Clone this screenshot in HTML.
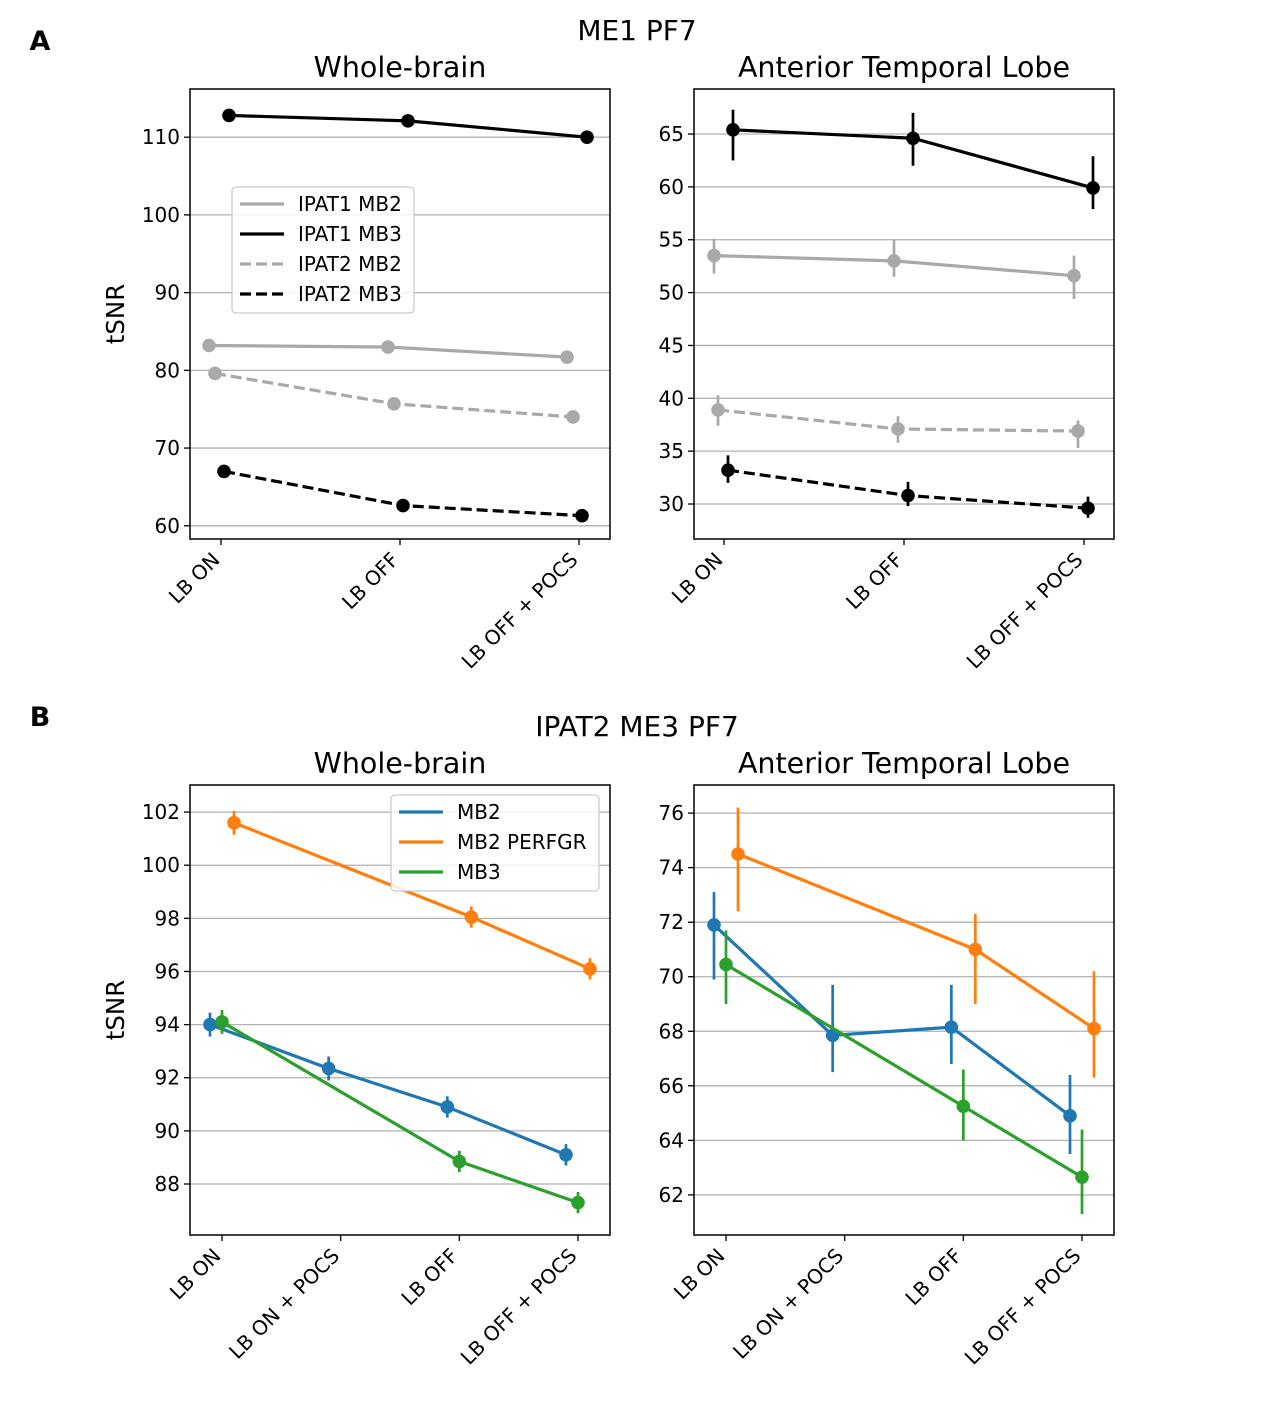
<!DOCTYPE html>
<html><head><meta charset="utf-8"><style>
body{margin:0;background:#fff}
svg{display:block;font-family:"DejaVu Sans","Liberation Sans",sans-serif}
</style></head><body>
<svg id="fig" width="1276" height="1406" viewBox="0 0 1276 1406">
<rect width="1276" height="1406" fill="#fff"/>
<text x="40" y="50" font-size="27" font-weight="bold" text-anchor="middle">A</text>
<text x="637" y="40" font-size="28" text-anchor="middle">ME1 PF7</text>
<text x="40" y="726" font-size="27" font-weight="bold" text-anchor="middle">B</text>
<text x="637" y="736" font-size="28" text-anchor="middle">IPAT2 ME3 PF7</text>
</svg>
<script>
// Panel A data
const catsA = ["LB ON","LB OFF","LB OFF + POCS"];
const seriesA = ["IPAT1 MB2","IPAT1 MB3","IPAT2 MB2","IPAT2 MB3"];
const wbA_ipat1mb2 = [83.2,83.0,81.7];
const wbA_ipat1mb3 = [112.8,112.1,110.0];
const wbA_ipat2mb2 = [79.6,75.7,74.0];
const wbA_ipat2mb3 = [67.0,62.6,61.3];
const atlA_ipat1mb2 = [53.5,53.0,51.6];
const atlA_ipat1mb2_lo = [51.8,51.5,49.4];
const atlA_ipat1mb2_hi = [55.1,55.0,53.5];
const atlA_ipat1mb3 = [65.4,64.6,59.9];
const atlA_ipat1mb3_lo = [62.5,62.0,57.9];
const atlA_ipat1mb3_hi = [67.3,67.0,62.9];
const atlA_ipat2mb2 = [38.9,37.1,36.9];
const atlA_ipat2mb2_lo = [37.4,35.8,35.3];
const atlA_ipat2mb2_hi = [40.3,38.3,37.9];
const atlA_ipat2mb3 = [33.2,30.8,29.6];
const atlA_ipat2mb3_lo = [32.0,29.8,28.7];
const atlA_ipat2mb3_hi = [34.6,32.1,30.7];
const ticksA_wb = [60,70,80,90,100,110];
const ticksA_atl = [30,35,40,45,50,55,60,65];
// Panel B data
const catsB = ["LB ON","LB ON + POCS","LB OFF","LB OFF + POCS"];
const seriesB = ["MB2","MB2 PERFGR","MB3"];
const wbB_mb2 = [94.0,92.35,90.9,89.1];
const wbB_perf = [101.6,null,98.05,96.1];
const wbB_mb3 = [94.1,null,88.85,87.3];
const wbB_err = [0.45,0.45,0.4,0.4];
const atlB_mb2 = [71.9,67.85,68.15,64.9];
const atlB_mb2_lo = [69.9,66.5,66.8,63.5];
const atlB_mb2_hi = [73.1,69.7,69.7,66.4];
const atlB_perf = [74.5,null,71.0,68.1];
const atlB_perf_lo = [72.4,null,69.0,66.3];
const atlB_perf_hi = [76.2,null,72.3,70.2];
const atlB_mb3 = [70.45,null,65.25,62.65];
const atlB_mb3_lo = [69.0,null,64.0,61.3];
const atlB_mb3_hi = [71.7,null,66.6,64.4];
const ticksB_wb = [88,90,92,94,96,98,100,102];
const ticksB_atl = [62,64,66,68,70,72,74,76];

const NS="http://www.w3.org/2000/svg";
const svg=document.getElementById('fig');
function mk(tag,attrs,parent){const e=document.createElementNS(NS,tag);for(const k in attrs)e.setAttribute(k,attrs[k]);(parent||svg).appendChild(e);return e;}

function axes(o){
  const g=mk('g',{});
  
  
  const y=v=>o.y1-(v-o.ymin)/(o.ymax-o.ymin)*(o.y1-o.y0);
  const n=o.cats.length;
  const xl=o.x0+o.pad, xr=o.x1-o.pad;
  const x=i=>xl+i*(xr-xl)/(n-1);
  o.ticks.forEach(t=>{
    const gl=mk('line',{x1:o.x0,x2:o.x1,y1:y(t),y2:y(t),stroke:'#b0b0b0','stroke-width':1.3},g);
    
    
    mk('line',{x1:o.x0-6,x2:o.x0,y1:y(t),y2:y(t),stroke:'#000','stroke-width':1.3},g);
    const tl=mk('text',{x:o.x0-10,y:y(t)+7,'font-size':20,'text-anchor':'end'},g);
    tl.textContent=t;
    
    
  });
  o.cats.forEach((c,i)=>{
    mk('line',{x1:x(i),x2:x(i),y1:o.y1,y2:o.y1+6,stroke:'#000','stroke-width':1.3},g);
    const tx=x(i)+0, ty=o.y1+22;
    const tl=mk('text',{x:tx,y:ty,'font-size':20,'text-anchor':'end',transform:`rotate(-45 ${tx} ${ty})`},g);
    tl.textContent=c;
    
    
  });
  const tt=mk('text',{x:(o.x0+o.x1)/2,y:o.y0-12,'font-size':28.5,'text-anchor':'middle'},g);
  tt.textContent=o.title;
  
  
  if(o.ylabel){
    const yl=mk('text',{x:124,y:(o.y0+o.y1)/2,'font-size':24.5,'text-anchor':'middle',transform:`rotate(-90 124 ${(o.y0+o.y1)/2})`},g);
    yl.textContent=o.ylabel;
    
    
  }
  o.series.forEach(s=>{
    const pts=[];
    s.v.forEach((v,i)=>{if(v!==null)pts.push([x(i)+s.off,y(v)]);});
    const pl=mk('polyline',{points:pts.map(p=>p.join(',')).join(' '),fill:'none',stroke:s.c,'stroke-width':3.2,'stroke-dasharray':s.dash?'11,5':'none'},g);
    
    
    s.v.forEach((v,i)=>{
      if(v===null)return;
      if(s.lo){
        const eb=mk('line',{x1:x(i)+s.off,x2:x(i)+s.off,y1:y(s.lo[i]),y2:y(s.hi[i]),stroke:s.c,'stroke-width':2.7},g);
        
        
      }
      const pt=mk('circle',{cx:x(i)+s.off,cy:y(v),r:6.8,fill:s.c},g);
      
      
    });
  });
  mk('rect',{x:o.x0,y:o.y0,width:o.x1-o.x0,height:o.y1-o.y0,fill:'none',stroke:'#000','stroke-width':1.5},g);
  return g;
}
const GR='#a9a9a9', BK='#000', BL='#1f77b4', OR='#ff7f0e', GN='#2ca02c';
const lo=(v,e)=>v.map((a,i)=>a===null?null:a-e[i]), hi=(v,e)=>v.map((a,i)=>a===null?null:a+e[i]);

axes({name:'panel-a-whole-brain',x0:190,x1:610,y0:89,y1:539,pad:31,ymin:58.3,ymax:116.2,ticks:ticksA_wb,cats:catsA,title:'Whole-brain',ylabel:'tSNR',
 series:[{v:wbA_ipat1mb2,c:GR,off:-12},{v:wbA_ipat1mb3,c:BK,off:8},{v:wbA_ipat2mb2,c:GR,off:-6,dash:1},{v:wbA_ipat2mb3,c:BK,off:3,dash:1}]});
axes({name:'panel-a-anterior-temporal-lobe',x0:694,x1:1114,y0:89,y1:539,pad:30,ymin:26.69,ymax:69.26,ticks:ticksA_atl,cats:catsA,title:'Anterior Temporal Lobe',
 series:[{v:atlA_ipat1mb2,lo:atlA_ipat1mb2_lo,hi:atlA_ipat1mb2_hi,c:GR,off:-10},{v:atlA_ipat1mb3,lo:atlA_ipat1mb3_lo,hi:atlA_ipat1mb3_hi,c:BK,off:9},{v:atlA_ipat2mb2,lo:atlA_ipat2mb2_lo,hi:atlA_ipat2mb2_hi,c:GR,off:-6,dash:1},{v:atlA_ipat2mb3,lo:atlA_ipat2mb3_lo,hi:atlA_ipat2mb3_hi,c:BK,off:4,dash:1}]});
axes({name:'panel-b-whole-brain',x0:190,x1:610,y0:785,y1:1235,pad:32,ymin:86.08,ymax:103.02,ticks:ticksB_wb,cats:catsB,title:'Whole-brain',ylabel:'tSNR',
 series:[{v:wbB_mb2,lo:lo(wbB_mb2,wbB_err),hi:hi(wbB_mb2,wbB_err),c:BL,off:-12},{v:wbB_perf,lo:lo(wbB_perf,wbB_err),hi:hi(wbB_perf,wbB_err),c:OR,off:12},{v:wbB_mb3,lo:lo(wbB_mb3,wbB_err),hi:hi(wbB_mb3,wbB_err),c:GN,off:0}]});
axes({name:'panel-b-anterior-temporal-lobe',x0:694,x1:1114,y0:785,y1:1235,pad:32,ymin:60.53,ymax:77.03,ticks:ticksB_atl,cats:catsB,title:'Anterior Temporal Lobe',
 series:[{v:atlB_mb2,lo:atlB_mb2_lo,hi:atlB_mb2_hi,c:BL,off:-12},{v:atlB_perf,lo:atlB_perf_lo,hi:atlB_perf_hi,c:OR,off:12},{v:atlB_mb3,lo:atlB_mb3_lo,hi:atlB_mb3_hi,c:GN,off:0}]});

function legend(name,x0,y0,w,labels,styles){
  const g=mk('g',{});
  
  
  mk('rect',{x:x0,y:y0,width:w,height:labels.length*30+6,rx:4,fill:'#fff','fill-opacity':0.85,stroke:'#ccc','stroke-width':1.3},g);
  labels.forEach((l,i)=>{
    const yy=y0+17+i*30;
    mk('line',{x1:x0+8,x2:x0+52,y1:yy,y2:yy,stroke:styles[i].c,'stroke-width':3.2,'stroke-dasharray':styles[i].dash?'11,5':'none'},g);
    const t=mk('text',{x:x0+66,y:yy+7,'font-size':20},g);
    t.textContent=l;
    
    
  });
}
legend('legend-panel-a',232,187,182,seriesA,[{c:GR},{c:BK},{c:GR,dash:1},{c:BK,dash:1}]);
legend('legend-panel-b',391,795,208,seriesB,[{c:BL},{c:OR},{c:GN}]);
</script>
</body></html>
